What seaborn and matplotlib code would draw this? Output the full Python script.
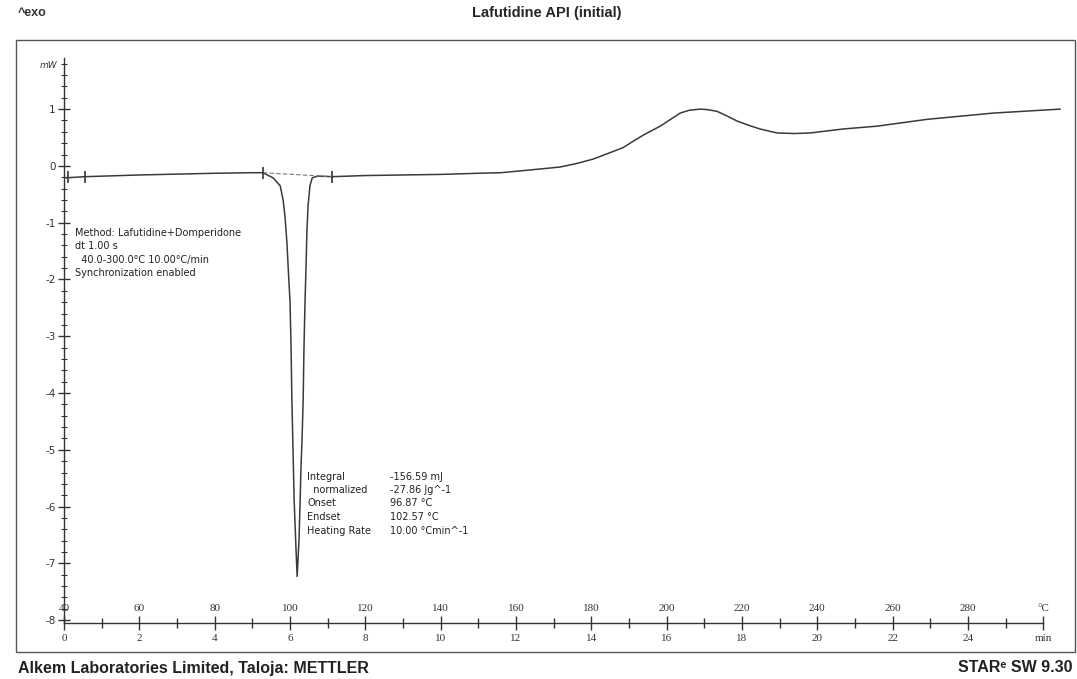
import numpy as np
import pandas as pd
import matplotlib
matplotlib.use("Agg")
import matplotlib.pyplot as plt
from matplotlib.patches import Rectangle
from matplotlib.ticker import MultipleLocator, FixedLocator
import seaborn as sns

# DSC curve: time (min) vs heat flow (mW)
time_min = [0.05, 0.56, 2.0, 4.0, 5.0, 5.28, 5.55, 5.74, 5.82, 5.87, 5.92, 5.97,
            6.00, 6.03, 6.05, 6.08, 6.11, 6.16, 6.19, 6.24, 6.27, 6.29, 6.32,
            6.35, 6.37, 6.40, 6.43, 6.45, 6.48, 6.53, 6.59, 6.74, 7.12, 8.0,
            9.0, 10.0, 11.0, 11.6, 12.4, 13.17, 13.6, 14.05, 14.84, 15.03,
            15.4, 15.83, 16.36, 16.6, 16.89, 17.1, 17.34, 17.6, 17.87, 18.2,
            18.48, 18.93, 19.4, 19.81, 20.69, 21.59, 22.92, 24.67, 26.45]
heat_flow_mw = [-0.21, -0.19, -0.16, -0.13, -0.12, -0.12, -0.21, -0.35, -0.61,
                -0.91, -1.37, -2.02, -2.37, -3.25, -4.12, -5.00, -5.88, -6.75,
                -7.23, -6.58, -5.88, -5.35, -4.82, -4.12, -3.25, -2.37, -1.67,
                -1.14, -0.70, -0.35, -0.21, -0.18, -0.19, -0.17, -0.16, -0.15,
                -0.13, -0.12, -0.07, -0.02, 0.04, 0.12, 0.32, 0.40, 0.55, 0.70,
                0.93, 0.98, 1.00, 0.99, 0.96, 0.88, 0.79, 0.71, 0.65, 0.58,
                0.57, 0.58, 0.65, 0.70, 0.82, 0.93, 1.00]

# integration limit marks and baseline of the melting peak
bracket_time = [0.10, 0.56, 5.28, 7.12]
bracket_mw = [-0.19, -0.19, -0.12, -0.19]
baseline_time = [5.28, 7.12]
baseline_mw = [-0.12, -0.19]

min_ticks = [0, 2, 4, 6, 8, 10, 12, 14, 16, 18, 20, 22, 24, 26]
min_labels = ["0", "2", "4", "6", "8", "10", "12", "14", "16", "18", "20", "22", "24", "min"]
temp_labels = ["40", "60", "80", "100", "120", "140", "160", "180", "200", "220",
               "240", "260", "280", "°C"]
mw_ticks = [-8, -7, -6, -5, -4, -3, -2, -1, 0, 1]

method_lines = ["Method: Lafutidine+Domperidone", "dt 1.00 s",
                "  40.0-300.0°C 10.00°C/min", "Synchronization enabled"]
result_names = ["Integral", "  normalized", "Onset", "Endset", "Heating Rate"]
result_values = ["-156.59 mJ", "-27.86 Jg^-1", "96.87 °C", "102.57 °C", "10.00 °Cmin^-1"]

W, H = 1077, 679
sns.set_style("white")
plt.rcParams["font.family"] = ["DejaVu Sans"]

fig = plt.figure(figsize=(W / 100, H / 100), dpi=100)
ax = fig.add_axes([64 / W, 1 - 623 / H, 1000 / W, (623 - 58) / H])

df = pd.DataFrame({"t": time_min, "mw": heat_flow_mw})
sns.lineplot(data=df, x="t", y="mw", ax=ax, color="#3a3a3a", lw=1.1,
             sort=False, estimator=None)
ax.plot(baseline_time, baseline_mw, color="#777777", lw=0.8, ls=(0, (4, 2)))
ax.plot(bracket_time, bracket_mw, ls="none", marker="|", ms=9, mew=1.2, color="#333333")

ax.set_xlim(0, 26.55)
ax.set_ylim(-8.05, 1.9)
ax.set_xlabel("")
ax.set_ylabel("")
for s in ["top", "right"]:
    ax.spines[s].set_visible(False)
for s in ["left", "bottom"]:
    ax.spines[s].set_color("#333333")
    ax.spines[s].set_linewidth(1.0)
ax.spines["bottom"].set_bounds(0, 26)

ax.xaxis.set_major_locator(FixedLocator(min_ticks))
ax.set_xticklabels(min_labels, family="Liberation Serif")
ax.xaxis.set_minor_locator(FixedLocator(list(range(1, 26, 2))))
ax.tick_params(axis="x", which="both", bottom=True)
ax.tick_params(axis="x", which="major", direction="inout", length=10, width=1,
               labelsize=8, colors="#333333", pad=3)
ax.tick_params(axis="x", which="minor", direction="inout", length=7, width=1,
               colors="#333333")

ax.yaxis.set_major_locator(FixedLocator(mw_ticks))
ax.set_yticklabels([str(v) for v in mw_ticks])
ax.yaxis.set_minor_locator(MultipleLocator(0.2))
ax.tick_params(axis="y", which="both", left=True)
ax.tick_params(axis="y", which="major", direction="inout", length=8, width=1,
               labelsize=7.5, colors="#333333", pad=2)
ax.tick_params(axis="y", which="minor", direction="inout", length=4, width=0.8,
               colors="#333333")

# temperature scale written just above the time axis
for t, lab in zip(min_ticks, temp_labels):
    ax.text(t, 0.026, lab, transform=ax.get_xaxis_transform(), ha="center",
            va="center", fontsize=8, family="Liberation Serif", color="#333333")

# outer frame
fig.add_artist(Rectangle((16 / W, 1 - 652 / H), (1075 - 16) / W, (652 - 40) / H,
                         transform=fig.transFigure, fill=False, ec="#555555", lw=1))

fig.text(18 / W, 1 - 13 / H, "^exo", fontsize=9, fontweight="bold", va="center",
         family="Liberation Sans", color="#333333")
fig.text(547 / W, 1 - 13 / H, "Lafutidine API (initial)", fontsize=10.5,
         fontweight="bold", ha="center", va="center", family="Liberation Sans")
fig.text(48 / W, 1 - 65 / H, "mW", fontsize=6.5, style="italic", va="center",
         ha="center", color="#333333")

for y, line in zip([233, 246, 260, 273], method_lines):
    fig.text(75 / W, 1 - y / H, line, fontsize=7, va="center", color="#222222")

for y, name, val in zip([477, 490, 503, 517, 531], result_names, result_values):
    fig.text(307 / W, 1 - y / H, name, fontsize=7, va="center", color="#222222")
    fig.text(390 / W, 1 - y / H, val, fontsize=7, va="center", color="#222222")

fig.text(18 / W, 1 - 668 / H, "Alkem Laboratories Limited, Taloja: METTLER",
         fontsize=11.5, fontweight="bold", va="center", family="Liberation Sans",
         color="#222222")
fig.text(1072 / W, 1 - 668 / H, "STAR\u1d49 SW 9.30", fontsize=11.5,
         fontweight="bold", va="center", ha="right", family=["Liberation Sans", "DejaVu Sans"],
         color="#222222")

fig.savefig("out.png", dpi=100)
